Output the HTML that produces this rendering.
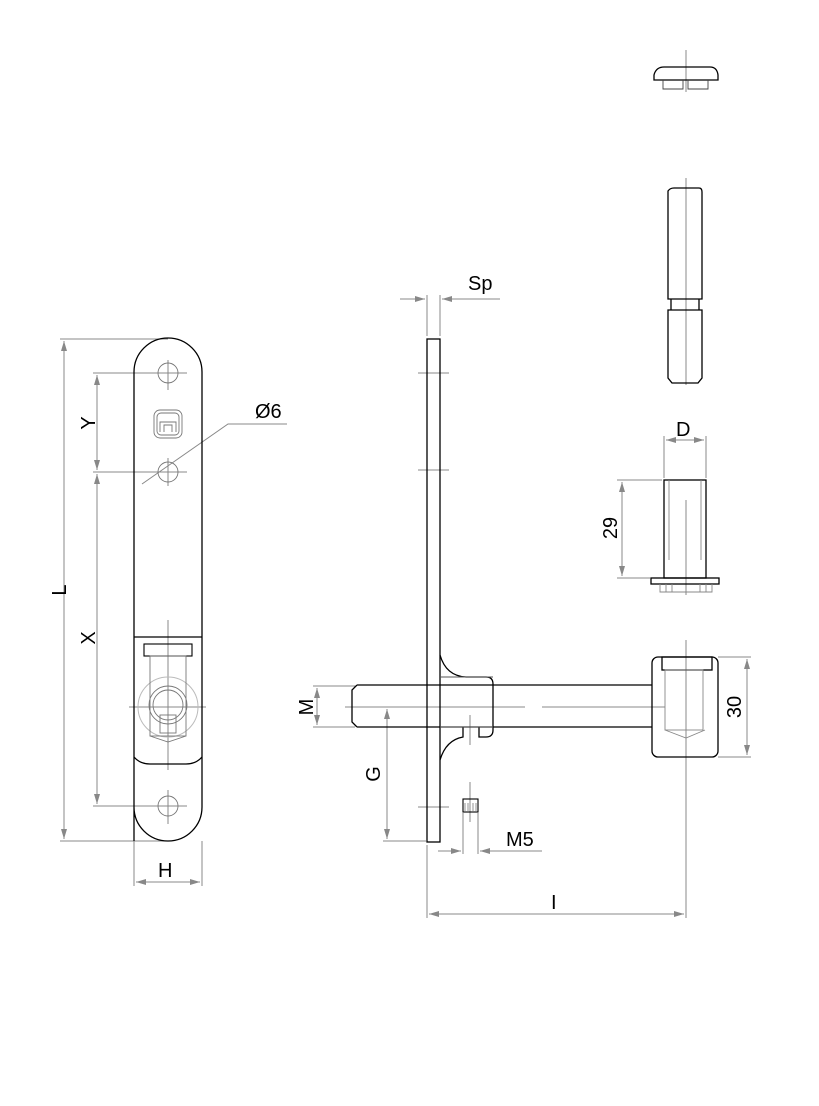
<!DOCTYPE html>
<html><head><style>html,body{margin:0;padding:0;background:#fff}svg{display:block}text{font-family:"Liberation Sans",sans-serif;font-size:20px;fill:#000}</style></head>
<body>
<svg width="819" height="1106" viewBox="0 0 819 1106" xmlns="http://www.w3.org/2000/svg">
<defs>
<marker id="a" viewBox="0 0 10 6" refX="10" refY="3" markerWidth="10" markerHeight="6" orient="auto-start-reverse" markerUnits="userSpaceOnUse"><path d="M0,0 L10,3 L0,6 z" fill="#888"/></marker>
</defs>
<g fill="none" stroke="#888" stroke-width="1">
<!-- left dims -->
<line x1="60" y1="339" x2="168" y2="339"/><line x1="60" y1="841" x2="168" y2="841"/>
<line x1="64" y1="341" x2="64" y2="839" marker-start="url(#a)" marker-end="url(#a)"/>
<line x1="93" y1="373" x2="187" y2="373"/><line x1="93" y1="472" x2="187" y2="472"/><line x1="93" y1="806" x2="187" y2="806"/>
<line x1="97" y1="375" x2="97" y2="470" marker-start="url(#a)" marker-end="url(#a)"/>
<line x1="97" y1="474" x2="97" y2="804" marker-start="url(#a)" marker-end="url(#a)"/>
<line x1="134" y1="841" x2="134" y2="886"/><line x1="202" y1="841" x2="202" y2="886"/>
<line x1="136" y1="882" x2="200" y2="882" marker-start="url(#a)" marker-end="url(#a)"/>
<polyline points="142,484 228,424 287,424"/>
<line x1="168" y1="360" x2="168" y2="390"/><line x1="150" y1="373" x2="186" y2="373"/>
<line x1="168" y1="458" x2="168" y2="486"/>
<line x1="168" y1="790" x2="168" y2="824"/>
<line x1="168" y1="620" x2="168" y2="770"/><line x1="129" y1="707" x2="206" y2="707"/>
<circle cx="168" cy="707" r="30" stroke="#bbb"/>
<!-- middle dims -->
<line x1="427" y1="295" x2="427" y2="336"/><line x1="440" y1="295" x2="440" y2="336"/>
<line x1="400" y1="299" x2="425" y2="299" marker-end="url(#a)"/><line x1="500" y1="299" x2="442" y2="299" marker-end="url(#a)"/>
<line x1="418" y1="373" x2="449" y2="373"/><line x1="418" y1="470" x2="449" y2="470"/><line x1="418" y1="807" x2="449" y2="807"/>
<line x1="313" y1="686" x2="355" y2="686"/><line x1="313" y1="727" x2="355" y2="727"/>
<line x1="317" y1="688" x2="317" y2="725" marker-start="url(#a)" marker-end="url(#a)"/>
<line x1="345" y1="707" x2="525" y2="707"/><line x1="542" y1="707" x2="665" y2="707"/>
<line x1="383" y1="841" x2="426" y2="841"/>
<line x1="387" y1="709" x2="387" y2="839" marker-start="url(#a)" marker-end="url(#a)"/>
<line x1="470" y1="715" x2="470" y2="745"/><line x1="470" y1="782" x2="470" y2="822"/>
<line x1="463" y1="813" x2="463" y2="854"/><line x1="478" y1="813" x2="478" y2="854"/>
<line x1="438" y1="851" x2="461" y2="851" marker-end="url(#a)"/><line x1="542" y1="851" x2="480" y2="851" marker-end="url(#a)"/>
<line x1="427" y1="845" x2="427" y2="918"/><line x1="686" y1="640" x2="686" y2="918"/>
<line x1="429" y1="914" x2="684" y2="914" marker-start="url(#a)" marker-end="url(#a)"/>
<line x1="718" y1="657" x2="751" y2="657"/><line x1="718" y1="757" x2="751" y2="757"/>
<line x1="747" y1="659" x2="747" y2="755" marker-start="url(#a)" marker-end="url(#a)"/>
<!-- right dims -->
<line x1="686" y1="50" x2="686" y2="92"/><line x1="686" y1="178" x2="686" y2="385"/><line x1="686" y1="500" x2="686" y2="595"/>
<line x1="664" y1="436" x2="664" y2="478"/><line x1="706" y1="436" x2="706" y2="478"/>
<line x1="666" y1="440" x2="704" y2="440" marker-start="url(#a)" marker-end="url(#a)"/>
<line x1="617" y1="480" x2="662" y2="480"/><line x1="617" y1="578" x2="650" y2="578"/>
<line x1="622" y1="482" x2="622" y2="576" marker-start="url(#a)" marker-end="url(#a)"/>
</g>
<g fill="none" stroke="#000" stroke-width="1.3">
<!-- left strap -->
<path d="M134,841 V372 A34,34 0 0 1 202,372 V807 A34,34 0 0 1 134,807"/>
<line x1="134" y1="637" x2="202" y2="637"/>
<path d="M134,757 Q140,764 150,764 H186 Q196,764 202,757"/>
<rect x="144" y="644" width="48" height="12" stroke-width="1.1"/>
</g>
<g fill="none" stroke="#777" stroke-width="0.9">
<circle cx="168" cy="373" r="10"/><circle cx="168" cy="472" r="10"/><circle cx="168" cy="806" r="10"/>
<rect x="154" y="410" width="28" height="28" rx="6"/><rect x="157" y="413" width="22" height="22" rx="4"/>
<path d="M160,432 V422 H176 V432 M164,432 V425 H172 V432"/>
<rect x="150" y="656" width="36" height="80"/>
<circle cx="168" cy="705" r="19"/><circle cx="168" cy="705" r="15"/>
<path d="M150,736 L168,742 L186,736"/>
<rect x="160" y="715" width="16" height="18"/>
</g>
<g fill="none" stroke="#000" stroke-width="1.3">
<!-- plate -->
<rect x="427" y="339" width="13" height="503"/>
<!-- rod -->
<path d="M357,685 H652 M357,727 H652 M357,685 L352,690 V722 L357,727"/>
<!-- boss -->
<path d="M440,655 Q446,676 466,677 H486 Q493,677 493,684 V730 Q493,737 486,737 H479 V727 M440,760 Q446,740 463,737 V727"/>
<!-- head -->
<rect x="652" y="657" width="66" height="100" rx="6"/>
<rect x="662" y="657" width="50" height="13"/>
<rect x="463" y="799" width="15" height="13" stroke-width="1.1"/>
<!-- top cap -->
<path d="M654,75 Q656,67 664,67 H710 Q717,67 718,75 V80 H654 Z"/>
<!-- pin -->
<path d="M668,191 Q670,188 674,188 H699 Q702,188 702,192 V299 H668 Z"/>
<path d="M668,310 H702 V378 L698,383 H672 L668,378 Z"/>
<path d="M671,299 V310 M699,299 V310"/>
<!-- sleeve -->
<rect x="664" y="480" width="42" height="98"/>
<rect x="651" y="578" width="68" height="6"/>
</g>
<g fill="none" stroke="#888" stroke-width="0.9">
<path d="M440,677 H493 M440,727 H493" stroke="#555"/>
<rect x="665" y="670" width="38" height="60"/><path d="M665,730 L686,738 L705,730"/>
<path d="M663,80 V89 H683 V80 M688,80 V89 H708 V80" stroke="#444"/>
<path d="M669,480 V560 M701,480 V560"/>
<path d="M660,584 V592 H712 V584 M666,584 V592 M672,584 V592 M700,584 V592 M706,584 V592"/>
<path d="M465,803 V811 M476,803 V811 M468,803 V811 M473,803 V811"/>
</g>
<text x="255" y="418">Ø6</text>
<text x="468" y="290">Sp</text>
<text x="676" y="436">D</text>
<text x="506" y="846">M5</text>
<text x="551" y="909">I</text>
<text x="158" y="877">H</text>
<text transform="translate(59,590) rotate(-90)" text-anchor="middle" dy="7">L</text>
<text transform="translate(88,423) rotate(-90)" text-anchor="middle" dy="7">Y</text>
<text transform="translate(88,638) rotate(-90)" text-anchor="middle" dy="7">X</text>
<text transform="translate(306,707) rotate(-90)" text-anchor="middle" dy="7">M</text>
<text transform="translate(373,774) rotate(-90)" text-anchor="middle" dy="7">G</text>
<text transform="translate(610,528) rotate(-90)" text-anchor="middle" dy="7">29</text>
<text transform="translate(734,707) rotate(-90)" text-anchor="middle" dy="7">30</text>
</svg>
</body></html>
